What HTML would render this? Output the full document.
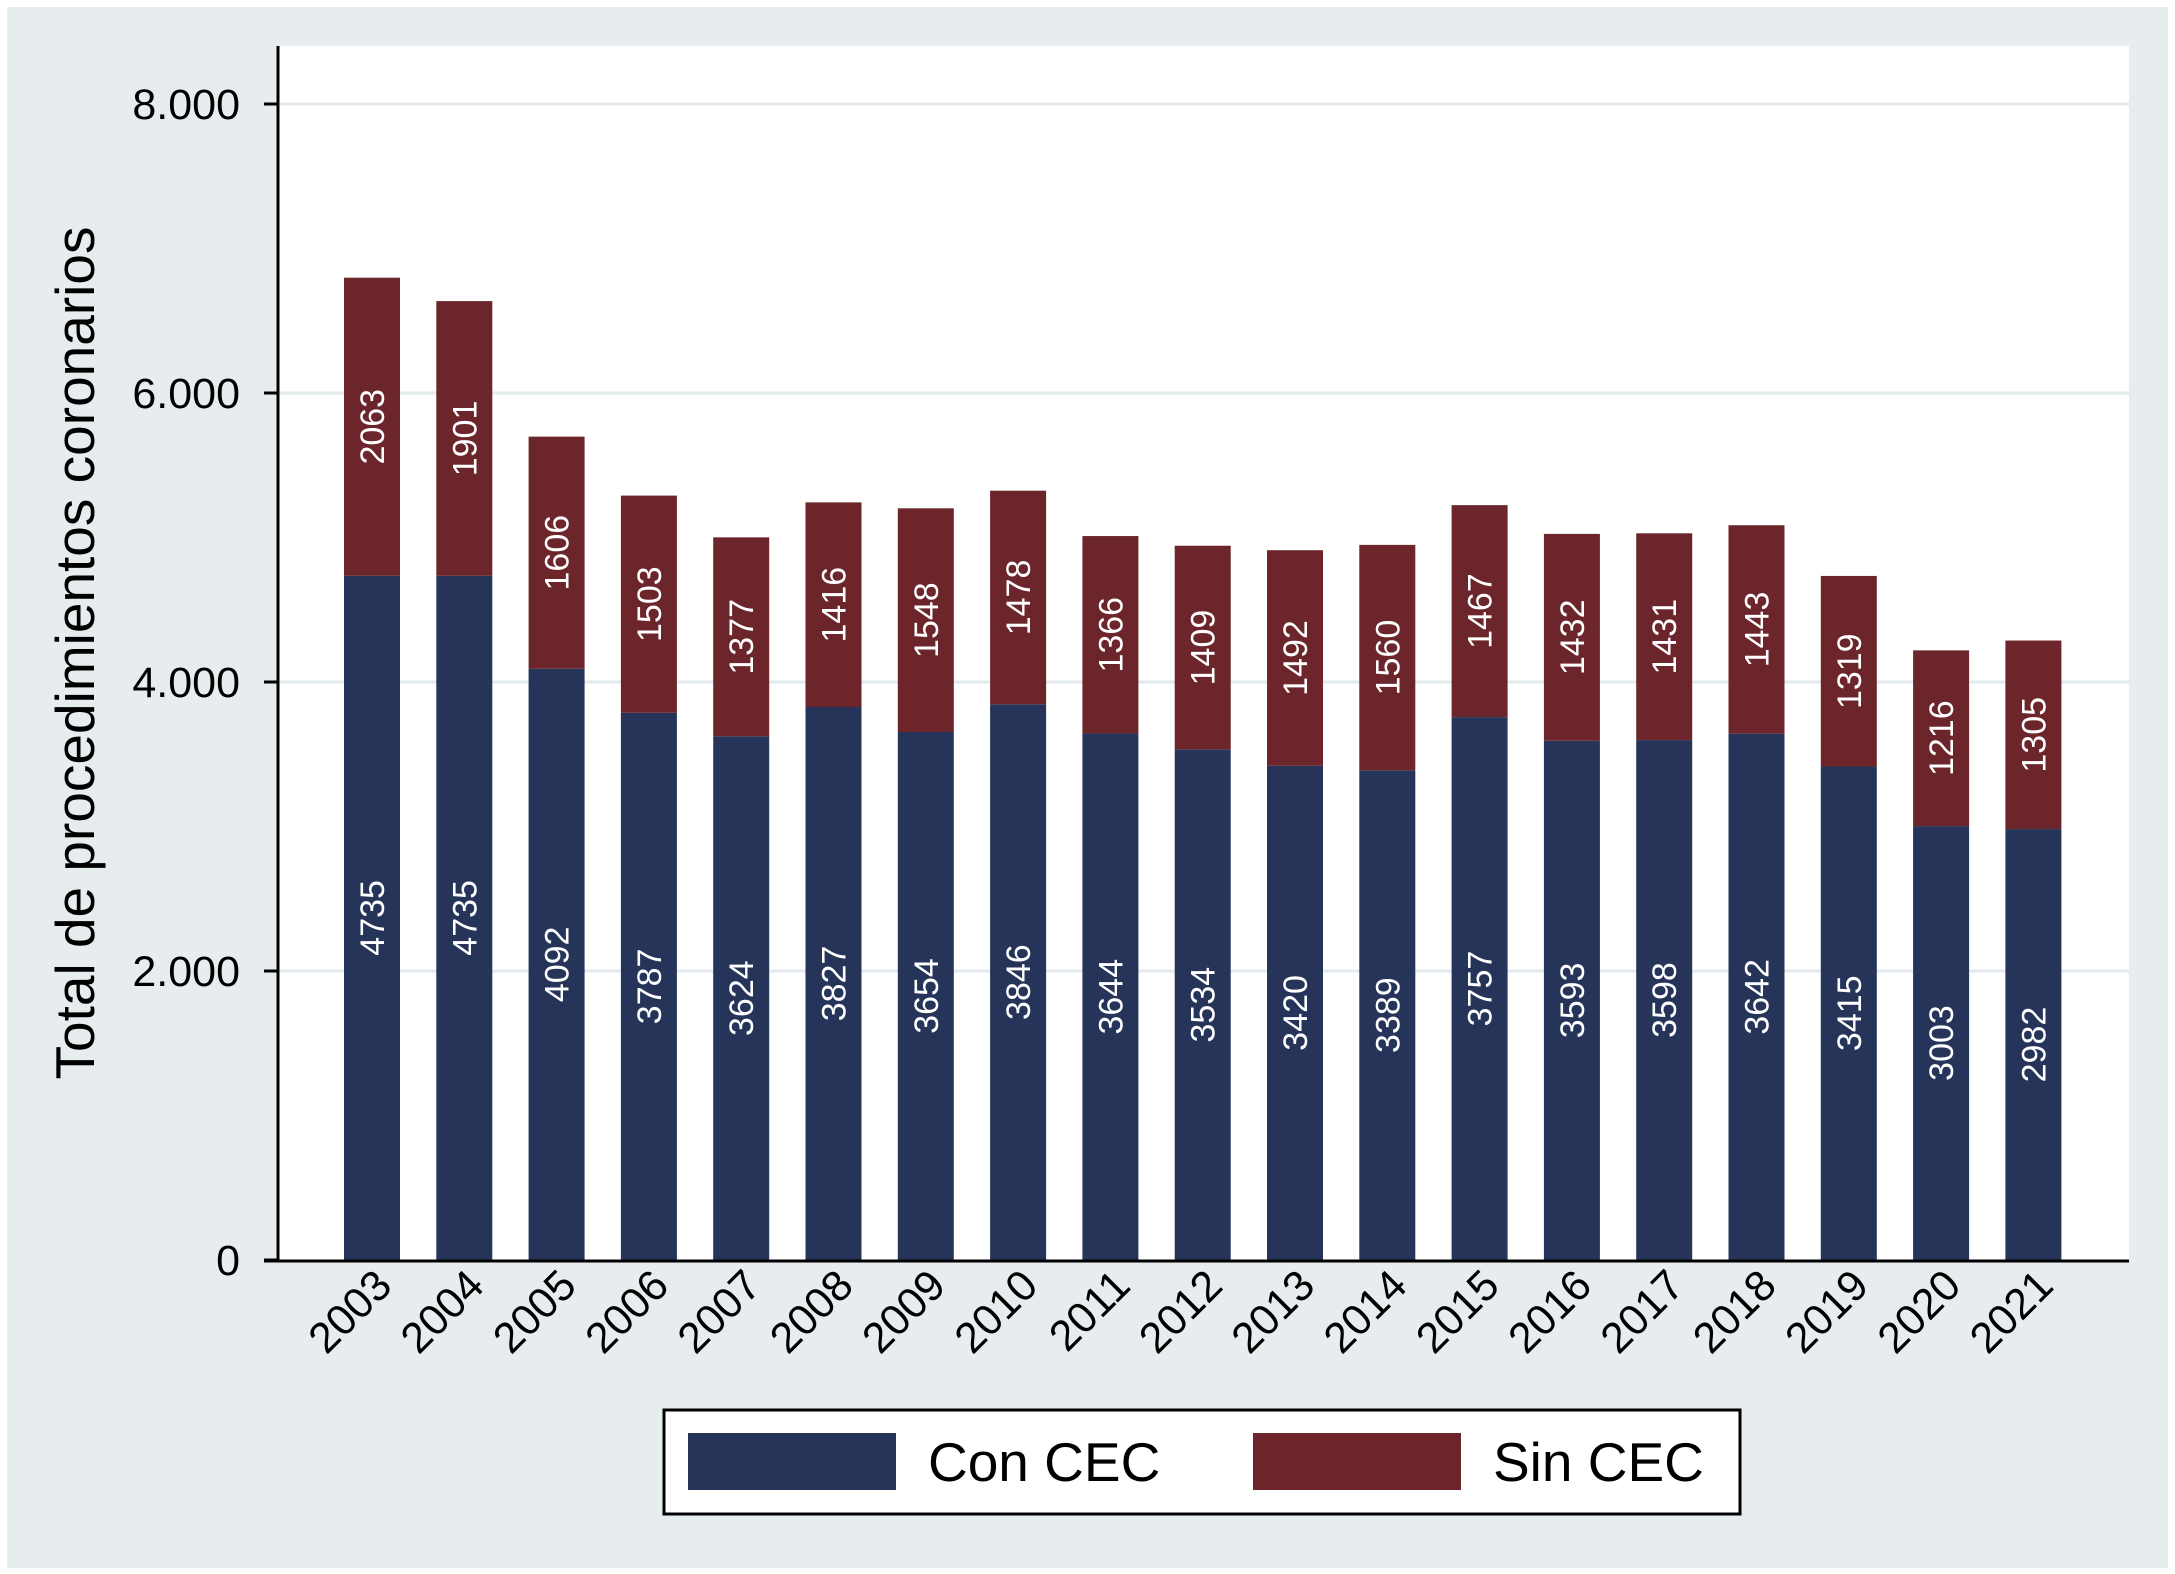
<!DOCTYPE html>
<html><head><meta charset="utf-8"><style>
html,body{margin:0;padding:0;background:#fff;}
svg{display:block;font-family:"Liberation Sans",Arial,sans-serif;}
</style></head><body>
<svg id="chart" width="2175" height="1574" viewBox="0 0 2175 1574">
<rect x="7" y="7" width="2161" height="1561" fill="#e7ecef"/>
<rect x="278" y="46" width="1851" height="1214" fill="#ffffff"/>
<g id="grid"></g><g id="bars"></g><g id="axes"></g>
<text transform="translate(94,653) rotate(-90)" text-anchor="middle" font-size="55" fill="#000">Total de procedimientos coronarios</text>
<g>
<rect x="664" y="1410" width="1076" height="104" fill="#fff" stroke="#000" stroke-width="3"/>
<rect x="688" y="1433" width="208" height="57" fill="#26345a"/>
<text x="928" y="1481" font-size="55" fill="#000">Con CEC</text>
<rect x="1253" y="1433" width="208" height="57" fill="#6b252b"/>
<text x="1493" y="1481" font-size="55" fill="#000">Sin CEC</text>
</g>
</svg>
<script>
const years=["2003","2004","2005","2006","2007","2008","2009","2010","2011","2012","2013","2014","2015","2016","2017","2018","2019","2020","2021"];
const conCEC=[4735,4735,4092,3787,3624,3827,3654,3846,3644,3534,3420,3389,3757,3593,3598,3642,3415,3003,2982];
const sinCEC=[2063,1901,1606,1503,1377,1416,1548,1478,1366,1409,1492,1560,1467,1432,1431,1443,1319,1216,1305];
const yTicks=[0,2000,4000,6000,8000];
const yTickLabels=["0","2.000","4.000","6.000","8.000"];
const NS="http://www.w3.org/2000/svg";
const y=v=>1260-v*(1260-104)/8000;
const x=i=>372+i*92.3;
const bw=56;
function mk(t,a,p){const e=document.createElementNS(NS,t);for(const k in a)e.setAttribute(k,a[k]);p.appendChild(e);return e;}
const grid=document.getElementById('grid'),bars=document.getElementById('bars'),axes=document.getElementById('axes');
yTicks.forEach((t,i)=>{
 if(t>0){const g=mk('line',{x1:280,x2:2129,y1:y(t),y2:y(t),stroke:'#e3eaee','stroke-width':3},grid);
 
 }
 const tk=mk('line',{x1:264,x2:278,y1:y(t),y2:y(t),stroke:'#000','stroke-width':3},axes);
 
 
 const lb=mk('text',{x:240,y:y(t)+15,'text-anchor':'end','font-size':43},axes);
 lb.textContent=yTickLabels[i];
 
 
});
years.forEach((yr,i)=>{
 const cx=x(i);
 const b1=mk('rect',{x:cx-bw/2,y:y(conCEC[i]),width:bw,height:y(0)-y(conCEC[i]),fill:'#26345a'},bars);
 
 
 const top=conCEC[i]+sinCEC[i];
 const b2=mk('rect',{x:cx-bw/2,y:y(top),width:bw,height:y(conCEC[i])-y(top),fill:'#6b252b'},bars);
 
 
 const l1=mk('text',{transform:`translate(${cx+12},${y(conCEC[i]/2)}) rotate(-90)`,'text-anchor':'middle','font-size':34,fill:'#fff'},bars);
 l1.textContent=conCEC[i];
 
 
 const l2=mk('text',{transform:`translate(${cx+12},${y(conCEC[i]+sinCEC[i]/2)}) rotate(-90)`,'text-anchor':'middle','font-size':34,fill:'#fff'},bars);
 l2.textContent=sinCEC[i];
 
 
 const xl=mk('text',{transform:`translate(${cx+22},${1288}) rotate(-45)`,'text-anchor':'end','font-size':43},axes);
 xl.textContent=yr;
 
 
});
const ya=mk('line',{x1:278,x2:278,y1:46,y2:1261,stroke:'#000','stroke-width':3},axes);


const xa=mk('line',{x1:264,x2:2129,y1:1261,y2:1261,stroke:'#000','stroke-width':3},axes);


</script>
</body></html>
